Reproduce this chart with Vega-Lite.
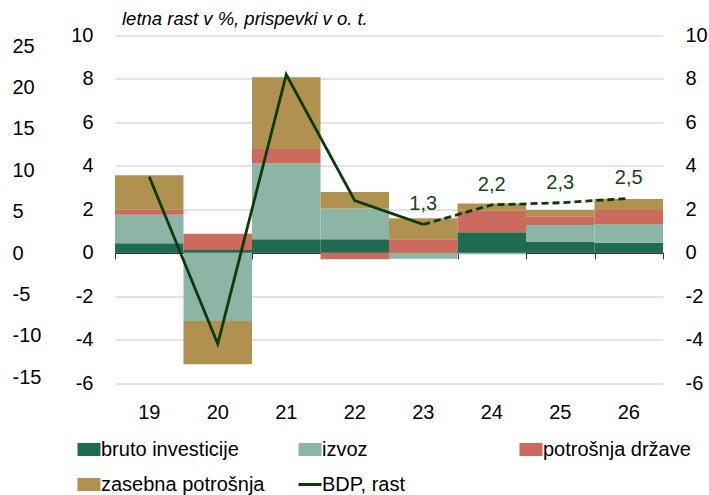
{
  "$schema": "https://vega.github.io/schema/vega-lite/v6.json",
  "width": 548,
  "height": 347.5,
  "autosize": {"type": "none"},
  "padding": {"left": 115, "top": 35.5, "right": 46, "bottom": 112},
  "background": "white",
  "config": {
    "font": "Liberation Sans",
    "view": {"stroke": null},
    "locale": {"number": {"decimal": ",", "thousands": ".", "grouping": [3], "currency": ["", " €"], "minus": "-"}},
    "axis": {"labelFont": "Liberation Sans", "labelFontSize": 20, "labelColor": "#000000"}
  },
  "title": {
    "text": "letna rast v %, prispevki v o. t.",
    "anchor": "start",
    "frame": "group",
    "fontSize": 18.5,
    "fontStyle": "italic",
    "fontWeight": "normal",
    "color": "#000000",
    "dx": 7,
    "offset": -3
  },
  "datasets": {
    "contrib": [
      {"leto": "19", "series": "bruto investicije", "value": 0.43},
      {"leto": "19", "series": "izvoz", "value": 1.32},
      {"leto": "19", "series": "potrošnja države", "value": 0.23},
      {"leto": "19", "series": "zasebna potrošnja", "value": 1.59},
      {"leto": "20", "series": "bruto investicije", "value": 0.12},
      {"leto": "20", "series": "izvoz", "value": -3.15},
      {"leto": "20", "series": "potrošnja države", "value": 0.75},
      {"leto": "20", "series": "zasebna potrošnja", "value": -1.99},
      {"leto": "21", "series": "bruto investicije", "value": 0.62},
      {"leto": "21", "series": "izvoz", "value": 3.49},
      {"leto": "21", "series": "potrošnja države", "value": 0.66},
      {"leto": "21", "series": "zasebna potrošnja", "value": 3.31},
      {"leto": "22", "series": "bruto investicije", "value": 0.62},
      {"leto": "22", "series": "izvoz", "value": 1.42},
      {"leto": "22", "series": "potrošnja države", "value": -0.3},
      {"leto": "22", "series": "zasebna potrošnja", "value": 0.76},
      {"leto": "23", "series": "bruto investicije", "value": 0},
      {"leto": "23", "series": "izvoz", "value": -0.28},
      {"leto": "23", "series": "potrošnja države", "value": 0.62},
      {"leto": "23", "series": "zasebna potrošnja", "value": 0.96},
      {"leto": "24", "series": "bruto investicije", "value": 0.94},
      {"leto": "24", "series": "izvoz", "value": -0.07},
      {"leto": "24", "series": "potrošnja države", "value": 0.99},
      {"leto": "24", "series": "zasebna potrošnja", "value": 0.34},
      {"leto": "25", "series": "bruto investicije", "value": 0.51},
      {"leto": "25", "series": "izvoz", "value": 0.76},
      {"leto": "25", "series": "potrošnja države", "value": 0.39},
      {"leto": "25", "series": "zasebna potrošnja", "value": 0.3},
      {"leto": "26", "series": "bruto investicije", "value": 0.46},
      {"leto": "26", "series": "izvoz", "value": 0.86},
      {"leto": "26", "series": "potrošnja države", "value": 0.64},
      {"leto": "26", "series": "zasebna potrošnja", "value": 0.51}
    ],
    "bdp": [
      {"leto": "19", "series": "BDP, rast", "seg": "a", "value": 3.5},
      {"leto": "20", "series": "BDP, rast", "seg": "a", "value": -4.2},
      {"leto": "21", "series": "BDP, rast", "seg": "a", "value": 8.2},
      {"leto": "22", "series": "BDP, rast", "seg": "a", "value": 2.4},
      {"leto": "23", "series": "BDP, rast", "seg": "a", "value": 1.3},
      {"leto": "23", "series": "BDP, rast", "seg": "b", "value": 1.3},
      {"leto": "24", "series": "BDP, rast", "seg": "b", "value": 2.2},
      {"leto": "25", "series": "BDP, rast", "seg": "b", "value": 2.3},
      {"leto": "26", "series": "BDP, rast", "seg": "b", "value": 2.5}
    ]
  },
  "resolve": {
    "scale": {"y": "independent"},
    "axis": {"x": "independent", "y": "independent"}
  },
  "layer": [
    {
      "data": {"name": "contrib"},
      "mark": {"type": "bar"},
      "encoding": {
        "x": {
          "field": "leto", "type": "nominal",
          "scale": {"paddingInner": 0, "paddingOuter": 0},
          "axis": {"orient": "bottom", "title": null, "domain": false, "ticks": false, "grid": false, "labelAngle": 0, "labelPadding": 19}
        },
        "y": {
          "aggregate": "sum", "field": "value", "type": "quantitative", "stack": "zero",
          "scale": {"domain": [-6, 10], "nice": false, "zero": false},
          "axis": {"orient": "left", "title": null, "values": [-6, -4, -2, 0, 2, 4, 6, 8, 10], "domain": false, "ticks": false, "grid": true, "gridColor": "#c6c6c6", "gridWidth": 1, "labelPadding": 22}
        },
        "color": {
          "field": "series", "type": "nominal",
          "scale": {
            "domain": ["bruto investicije", "zasebna potrošnja", "izvoz", "BDP, rast", "potrošnja države"],
            "range": ["#1f6b52", "#b0914f", "#8db5a6", "#0b3b0b", "#cc6a5e"]
          },
          "legend": {
            "orient": "none",
            "legendX": -36,
            "legendY": 404,
            "title": null,
            "columns": 3,
            "gridAlign": "all",
            "columnPadding": 27,
            "rowPadding": 15,
            "labelFont": "Liberation Sans",
            "labelFontSize": 20,
            "labelColor": "#000000",
            "labelOffset": 2,
            "labelLimit": 300,
            "symbolSize": 529,
            "symbolStrokeWidth": 0,
            "symbolOpacity": 1,
            "encode": {
              "symbols": {
                "update": {
                  "shape": {"signal": "datum.value === 'BDP, rast' ? 'stroke' : 'M-1,-0.57H1V0.57H-1Z'"},
                  "fill": {"signal": "datum.value === 'BDP, rast' ? 'transparent' : scale('color', datum.value)"},
                  "stroke": {"signal": "datum.value === 'BDP, rast' ? scale('color', datum.value) : 'transparent'"},
                  "strokeWidth": {"signal": "datum.value === 'BDP, rast' ? 3 : 0"},
                  "opacity": {"value": 1}
                }
              }
            }
          }
        },
        "order": {"field": "series", "sort": "ascending"}
      }
    },
    {
      "data": {"name": "bdp"},
      "mark": {"type": "line", "strokeWidth": 2.8},
      "encoding": {
        "x": {
          "field": "leto", "type": "nominal",
          "scale": {"paddingInner": 0, "paddingOuter": 0},
          "axis": {"orient": "bottom", "offset": -130.3, "title": null, "labels": false, "grid": false, "domain": true, "domainColor": "#333333", "domainWidth": 1.5, "ticks": true, "tickBand": "extent", "tickSize": 6, "tickColor": "#333333", "tickWidth": 1}
        },
        "y": {
          "field": "value", "type": "quantitative",
          "scale": {"domain": [-6, 10], "nice": false, "zero": false},
          "axis": {"orient": "right", "title": null, "values": [-6, -4, -2, 0, 2, 4, 6, 8, 10], "domain": false, "ticks": false, "grid": false, "labelAlign": "left", "labelPadding": 22}
        },
        "color": {"field": "series", "type": "nominal"},
        "strokeDash": {
          "field": "seg", "type": "nominal",
          "scale": {"domain": ["a", "b"], "range": [[1, 0], [7, 4]]},
          "legend": null
        }
      }
    },
    {
      "data": {"name": "bdp"},
      "transform": [{"filter": "datum.seg == 'b'"}],
      "mark": {"type": "text", "dy": -20, "fontSize": 20, "color": "#174417", "baseline": "middle", "align": "center"},
      "encoding": {
        "x": {"field": "leto", "type": "nominal", "axis": null},
        "y": {
          "field": "value", "type": "quantitative",
          "scale": {"domain": [-6, 10], "nice": false, "zero": false},
          "axis": null
        },
        "text": {"field": "value", "type": "quantitative", "format": ".1f"}
      }
    },
    {
      "data": {"values": [{"k": 0}]},
      "mark": {"type": "rule", "opacity": 0},
      "encoding": {
        "y": {
          "datum": 0, "type": "quantitative",
          "scale": {"domain": [-15.7, 26.3], "nice": false, "zero": false},
          "axis": {"orient": "left", "title": null, "values": [-15, -10, -5, 0, 5, 10, 15, 20, 25], "domain": false, "ticks": false, "grid": false, "labelAlign": "left", "labelPadding": 103}
        }
      }
    }
  ]
}
